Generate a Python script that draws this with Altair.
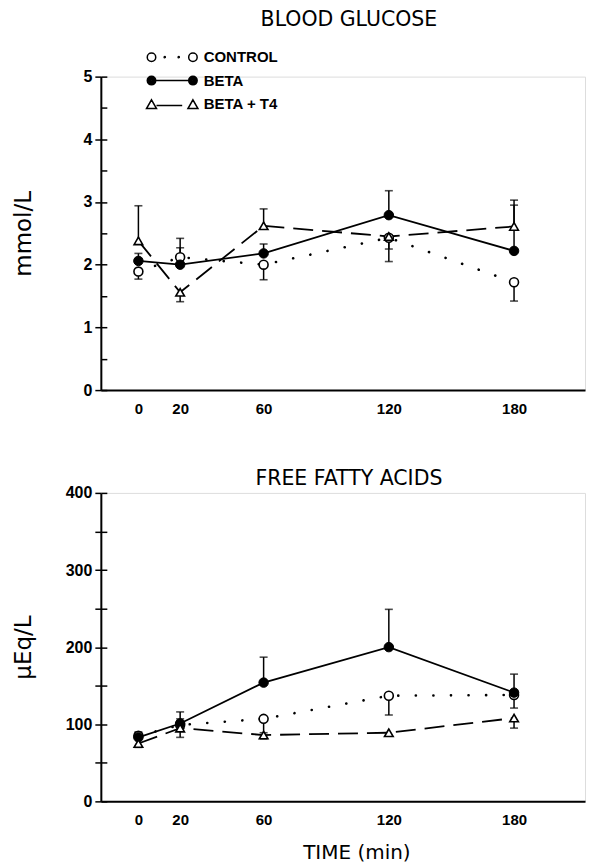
import altair as alt
import pandas as pd

# ---------------- data ----------------
times = [0, 20, 60, 120, 180]
groups = ["CONTROL", "BETA", "BETA + T4"]

# Blood glucose (mmol/L): mean, SEM, direction of the one-sided error bar
glu_control = [1.89, 2.12, 2.00, 2.43, 1.72]
glu_control_sem = [0.12, 0.30, 0.24, 0.38, 0.30]
glu_control_dir = ["down", "up", "down", "down", "down"]

glu_beta = [2.06, 2.00, 2.18, 2.79, 2.22]
glu_beta_sem = [0.12, 0.27, 0.15, 0.39, 0.73]
glu_beta_dir = ["up", "up", "up", "up", "up"]

glu_t4 = [2.38, 1.56, 2.62, 2.45, 2.61]
glu_t4_sem = [0.56, 0.15, 0.27, 0.20, 0.42]
glu_t4_dir = ["up", "down", "up", "down", "up"]

# Free fatty acids (uEq/L)
ffa_control = [85, 99, 107, 137, 138]
ffa_control_sem = [5, 8, 18, 25, 17]
ffa_control_dir = ["up", "up", "down", "down", "down"]

ffa_beta = [83, 101, 154, 200, 141]
ffa_beta_sem = [5, 15, 33, 49, 24]
ffa_beta_dir = ["up", "up", "up", "up", "up"]

ffa_t4 = [75, 95, 86, 89, 108]
ffa_t4_sem = [5, 12, 5, 4, 13]
ffa_t4_dir = ["down", "down", "down", "down", "down"]

glu_ticks = [0, 0.5, 1, 1.5, 2, 2.5, 3, 3.5, 4, 4.5, 5]
ffa_ticks = [0, 50, 100, 150, 200, 250, 300, 350, 400]


def frame(series):
    rows = []
    for g, vals, sems, dirs in series:
        for t, v, s, d in zip(times, vals, sems, dirs):
            rows.append({"t": t, "group": g, "value": v, "sem": s,
                         "end": v + s if d == "up" else v - s})
    return pd.DataFrame(rows)


glu_df = frame([
    ("CONTROL", glu_control, glu_control_sem, glu_control_dir),
    ("BETA", glu_beta, glu_beta_sem, glu_beta_dir),
    ("BETA + T4", glu_t4, glu_t4_sem, glu_t4_dir),
])
ffa_df = frame([
    ("CONTROL", ffa_control, ffa_control_sem, ffa_control_dir),
    ("BETA", ffa_beta, ffa_beta_sem, ffa_beta_dir),
    ("BETA + T4", ffa_t4, ffa_t4_sem, ffa_t4_dir),
])


# ---------------- legend symbols (custom SVG paths) ----------------
def f(v):
    return f"{v:.3f}"


def circ(cx, cy, r):
    k = 0.5523 * r
    return (f"M{f(cx + r)},{f(cy)} "
            f"C{f(cx + r)},{f(cy + k)} {f(cx + k)},{f(cy + r)} {f(cx)},{f(cy + r)} "
            f"C{f(cx - k)},{f(cy + r)} {f(cx - r)},{f(cy + k)} {f(cx - r)},{f(cy)} "
            f"C{f(cx - r)},{f(cy - k)} {f(cx - k)},{f(cy - r)} {f(cx)},{f(cy - r)} "
            f"C{f(cx + k)},{f(cy - r)} {f(cx + r)},{f(cy - k)} {f(cx + r)},{f(cy)} Z ")


def disc(cx, cy, r):
    # a filled-looking disc drawn as concentric rings (stroke only)
    return "".join(circ(cx, cy, rr) for rr in (r, r * 0.7, r * 0.42, r * 0.14))


def tri(cx, cy, r):
    return (f"M{f(cx)},{f(cy - r)} L{f(cx + r)},{f(cy + 0.75 * r)} "
            f"L{f(cx - r)},{f(cy + 0.75 * r)} Z ")


E = 4.15   # marker centre offset (units)
R = 0.85   # marker radius (units)
path_control = circ(-E, 0, R) + circ(-1.5, 0, 0.12) + circ(1.3, 0, 0.12) + circ(E, 0, R)
path_beta = disc(-E, 0, R) + f"M{f(-E + R)},0 L{f(E - R)},0 " + disc(E, 0, R)
path_t4 = tri(-E, 0.15, 1.0) + f"M{f(-E + 1.0)},0.3 L{f(2.0)},0.3 " + tri(E, 0.15, 1.0)
legend_paths = [path_control, path_beta, path_t4]

FONT = "Liberation Sans"
TFONT = "DejaVu Sans"
W = 485


def panel(df, ymax, yticks, ytitle, xtitle, title, title_offset, major, with_legend):
    xscale = alt.Scale(domain=[-18, 214], nice=False, zero=False)
    yscale = alt.Scale(domain=[0, ymax], nice=False, zero=True)
    xaxis = alt.Axis(values=times, ticks=False, grid=False, labelPadding=11,
                     labelFont=FONT, labelFontSize=15, labelFontWeight="bold",
                     labelColor="black", domainColor="black", domainWidth=2,
                     title=xtitle, titleFont=TFONT, titleFontSize=20,
                     titleFontWeight="normal", titleColor="black", titlePadding=15,
                     titleX=256)
    yaxis = alt.Axis(values=yticks, grid=False, format="d",
                     labelExpr=f"datum.value % {major} == 0 ? datum.label : ''",
                     tickSize=6, tickWidth=1.5, tickColor="black",
                     domainColor="black", domainWidth=2, labelPadding=3,
                     labelFont=FONT, labelFontSize=16, labelFontWeight="bold",
                     labelColor="black", title=ytitle, titleFont=TFONT,
                     titleFontSize=23, titleFontWeight="normal", titleColor="black",
                     titleX=-77, titleBaseline="middle")
    inner = alt.Axis(orient="right", offset=-W, values=yticks, grid=False,
                     labels=False, domain=False, tickSize=6, tickWidth=1.5,
                     tickColor="black", title=None)
    X = alt.X("t:Q", scale=xscale, axis=xaxis)
    Y = alt.Y("value:Q", scale=yscale, axis=None)
    base = alt.Chart(df)

    rules = base.mark_rule(color="black", strokeWidth=1.5).encode(
        x=X, y=alt.Y("value:Q", scale=yscale, axis=yaxis), y2="end:Q")
    caps = base.mark_tick(color="black", orient="horizontal", size=8,
                          thickness=1.6).encode(
        x=X, y=alt.Y("end:Q", scale=yscale, axis=None))
    inner_ticks = base.transform_filter("false").mark_point(opacity=0).encode(
        x=X, y=alt.Y("value:Q", scale=yscale, axis=inner))

    line_c = base.transform_filter(alt.datum.group == "CONTROL").mark_line(
        color="black", strokeWidth=2.6, strokeCap="round", strokeDash=[0.1, 17.5]
    ).encode(x=X, y=Y)
    line_b = base.transform_filter(alt.datum.group == "BETA").mark_line(
        color="black", strokeWidth=1.8).encode(x=X, y=Y)
    line_t = base.transform_filter(alt.datum.group == "BETA + T4").mark_line(
        color="black", strokeWidth=1.8, strokeDash=[20, 9]).encode(x=X, y=Y)

    pt_c = base.transform_filter(alt.datum.group == "CONTROL").mark_point(
        shape="circle", filled=True, fill="white", stroke="black", strokeWidth=1.6,
        size=80, opacity=1).encode(x=X, y=Y)
    pt_b = base.transform_filter(alt.datum.group == "BETA").mark_point(
        shape="circle", filled=True, fill="black", stroke="black", strokeWidth=1,
        size=90, opacity=1).encode(x=X, y=Y)
    pt_t = base.transform_filter(alt.datum.group == "BETA + T4").mark_point(
        shape="triangle-up", filled=True, fill="white", stroke="black",
        strokeWidth=1.6, size=75, opacity=1).encode(x=X, y=Y)

    layers = [rules, inner_ticks, caps, line_c, line_b, line_t, pt_c, pt_b, pt_t]

    if with_legend:
        leg = alt.Legend(title=None, orient="none", legendX=64, legendY=-27,
                         padding=0, symbolSize=100, symbolStrokeWidth=1.5,
                         symbolStrokeColor="black", symbolOpacity=1,
                         labelFont="Liberation Sans Narrow, Liberation Sans",
                         labelFontSize=15, labelFontWeight="bold", labelColor="black",
                         labelOffset=24, rowPadding=7.5)
        legend_layer = base.transform_filter("false").mark_point(
            filled=False, color="black", strokeWidth=1.5, size=100, opacity=1
        ).encode(
            x=X, y=Y,
            shape=alt.Shape("group:N", scale=alt.Scale(domain=groups, range=legend_paths),
                            legend=leg),
        )
        layers.append(legend_layer)

    return alt.layer(*layers).resolve_axis(y="independent").properties(
        width=W, height=(314 if with_legend else 309),
        title=alt.TitleParams(title, font=TFONT, fontSize=20.5, fontWeight="normal",
                              color="black", anchor="middle", frame="group",
                              offset=title_offset, dx=6),
    )


top = panel(glu_df, 5, glu_ticks, "mmol/L", None, "BLOOD GLUCOSE", 38, 1, True)
bottom = panel(ffa_df, 400, ffa_ticks, "\u03bcEq/L", "TIME (min)", "FREE FATTY ACIDS", -5, 100, False)

chart = alt.vconcat(top, bottom, spacing=52).properties(
    padding={"left": 4, "top": 1, "right": 0, "bottom": 0}
).configure_view(stroke=None).configure(background="white")

chart.save("out.html", embed_options={"renderer": "svg", "actions": False})
